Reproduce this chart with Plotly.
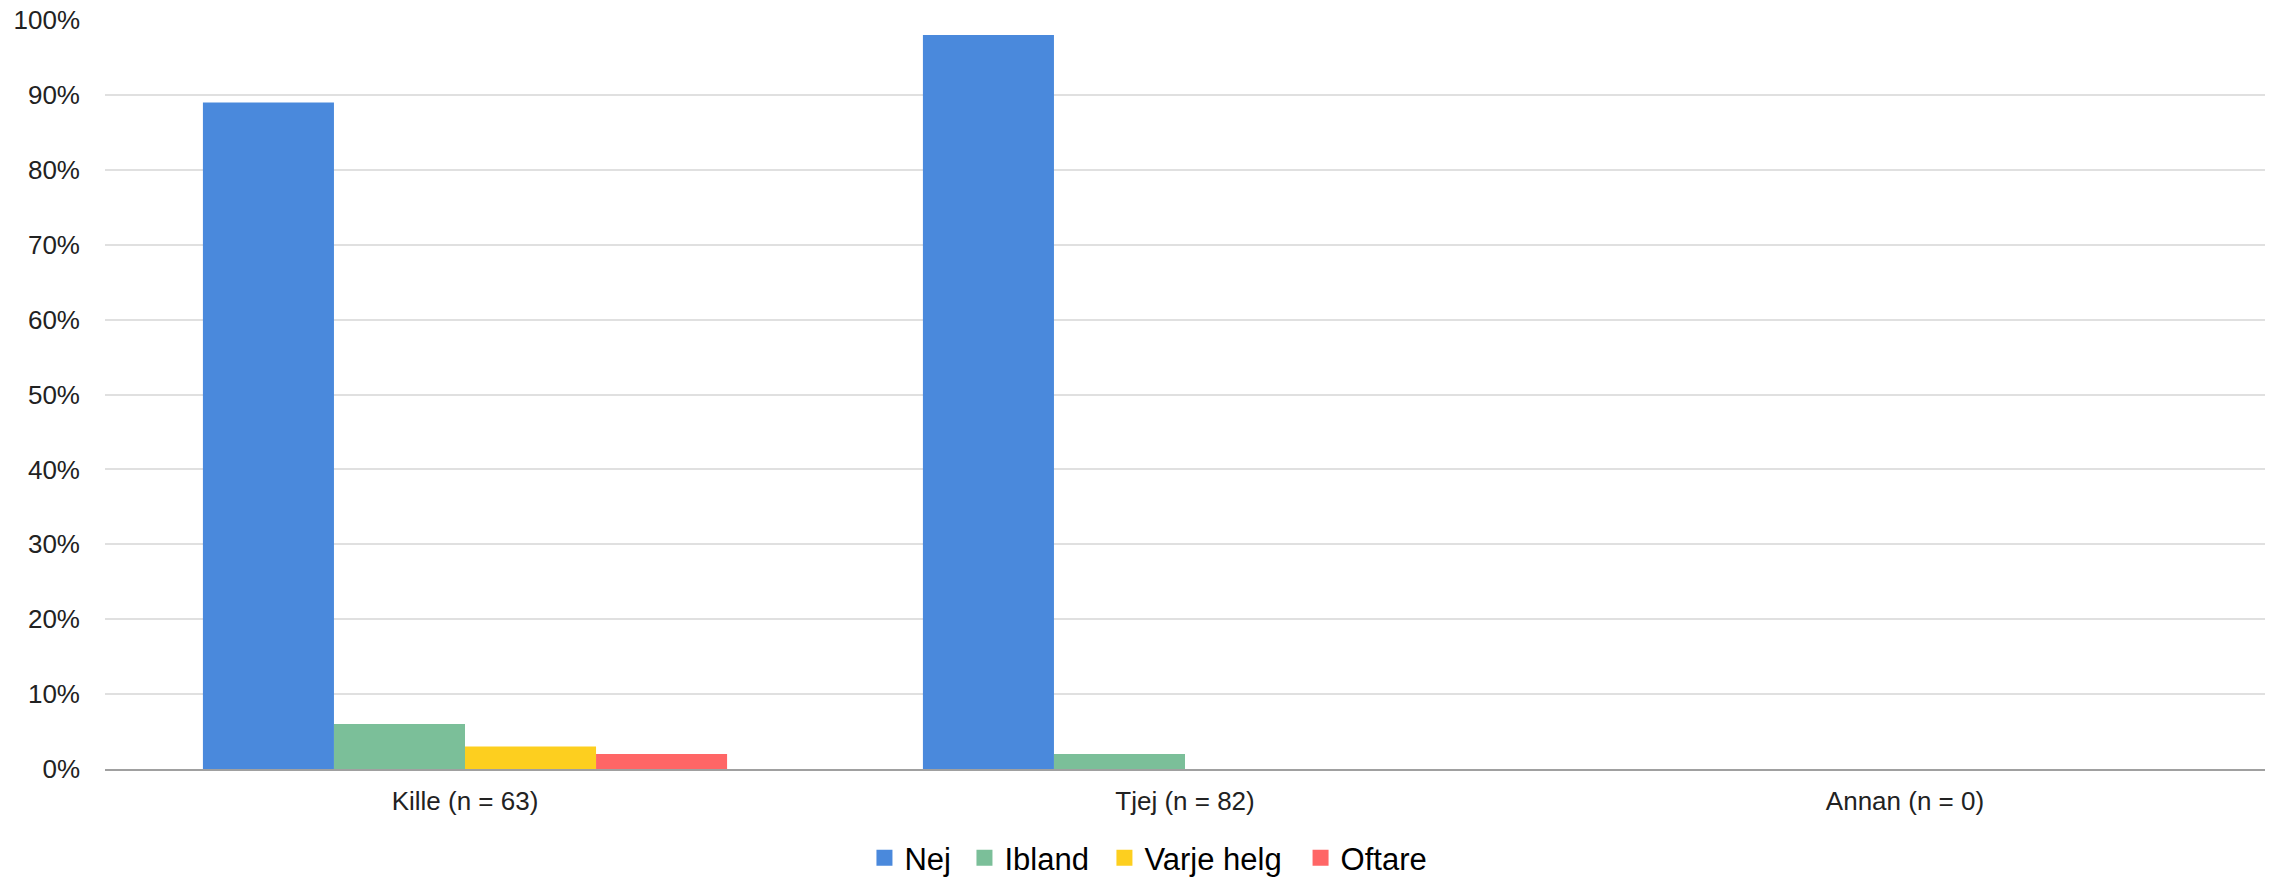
import plotly.graph_objects as go

categories = ["Kille (n = 63)", "Tjej (n = 82)", "Annan (n = 0)"]
series_names = ["Nej", "Ibland", "Varje helg", "Oftare"]
nej = [89, 98, 0]
ibland = [6, 2, 0]
varje_helg = [3, 0, 0]
oftare = [2, 0, 0]
y_ticks = [0, 10, 20, 30, 40, 50, 60, 70, 80, 90, 100]
y_tick_labels = ["0%", "10%", "20%", "30%", "40%", "50%", "60%", "70%", "80%", "90%", "100%"]

colors = ["#4A89DC", "#7BBF99", "#FDCF1F", "#FF6666"]
series_values = [nej, ibland, varje_helg, oftare]

FONT = "Liberation Sans, Arial, sans-serif"

# horizontal placement (paper fraction) of each legend entry box
legend_ids = ["legend", "legend2", "legend3", "legend4"]
legend_x = [0.3516, 0.3979, 0.4627, 0.5535]

fig = go.Figure()
for name, vals, col in zip(series_names, series_values, colors):
    fig.add_trace(go.Bar(
        x=categories, y=vals, name=name,
        marker=dict(color=col, line=dict(width=0)),
        showlegend=False, hoverinfo="x+y+name",
    ))
# legend entries with larger square symbols
for name, col, lid in zip(series_names, colors, legend_ids):
    fig.add_trace(go.Scatter(
        x=[None], y=[None], mode="markers", name=name,
        marker=dict(symbol="square", size=17, color=col),
        showlegend=True, legend=lid,
    ))

legend_common = dict(
    orientation="h", xanchor="left", y=-0.119, yanchor="middle",
    font=dict(size=31, color="#000000"), itemsizing="trace", itemwidth=30,
    bgcolor="rgba(0,0,0,0)", borderwidth=0,
)

fig.update_layout(
    width=2277, height=878,
    margin=dict(l=105, r=12, t=20, b=109, autoexpand=False),
    paper_bgcolor="white", plot_bgcolor="white",
    barmode="group", bargap=0.272, bargroupgap=0,
    font=dict(family=FONT, color="#222222"),
    showlegend=True,
    legend=dict(x=legend_x[0], **legend_common),
    legend2=dict(x=legend_x[1], **legend_common),
    legend3=dict(x=legend_x[2], **legend_common),
    legend4=dict(x=legend_x[3], **legend_common),
    xaxis=dict(
        type="category", showgrid=False, zeroline=False,
        showline=True, linecolor="#A0A0A0", linewidth=2,
        ticks="", tickfont=dict(size=26, color="#222222"),
        ticklabelstandoff=8, automargin=False,
    ),
    yaxis=dict(
        range=[0, 100], tickmode="array", tickvals=y_ticks, ticktext=y_tick_labels,
        showgrid=True, gridcolor="#E0E0E0", gridwidth=2,
        zeroline=False, showline=False, ticks="",
        tickfont=dict(size=26, color="#222222"),
        ticklabelstandoff=24, automargin=False,
    ),
)

fig.write_html(
    "out.html",
    config={"displayModeBar": False},
    post_script="document.body.style.margin='0px';",
)
